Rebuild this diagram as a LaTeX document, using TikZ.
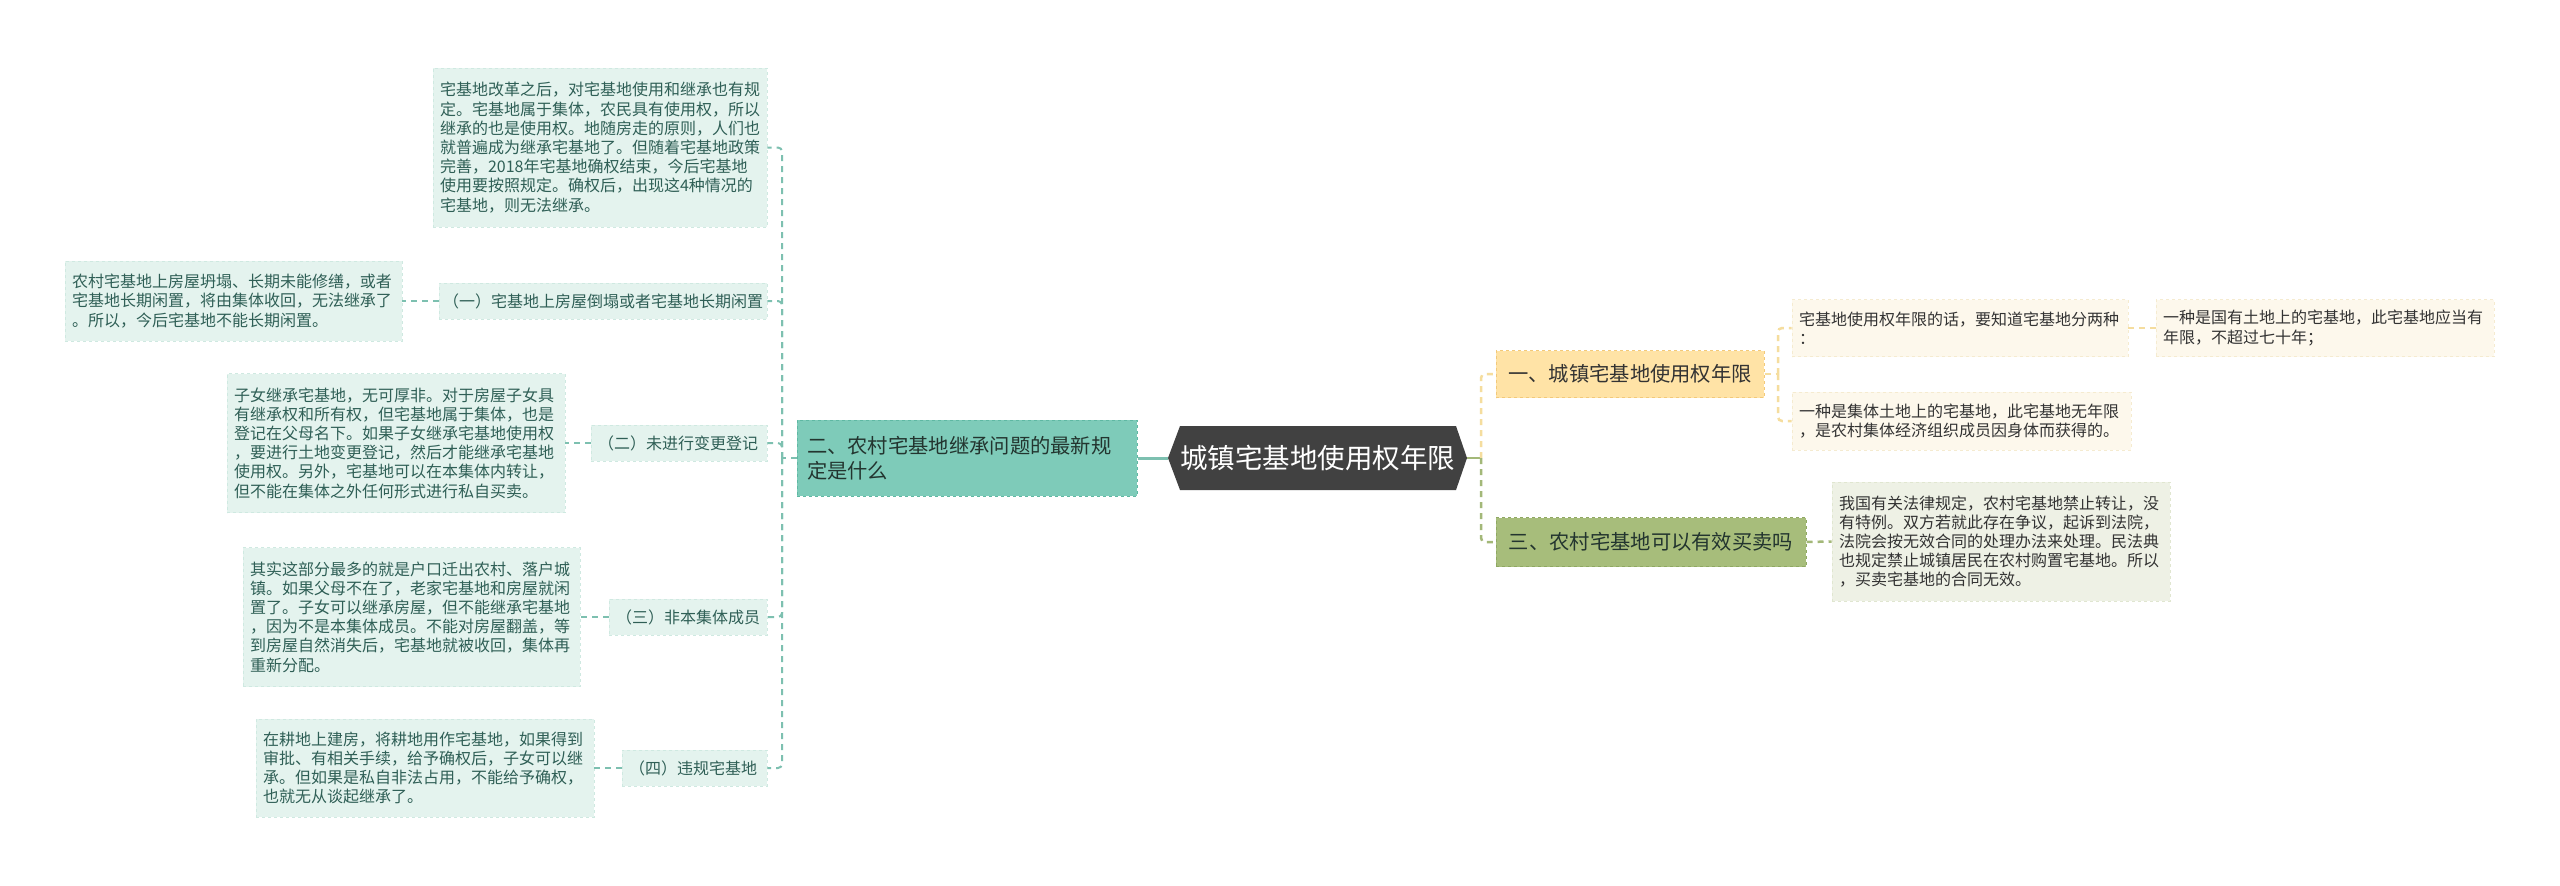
\documentclass[tikz,border=0pt]{standalone}
\usepackage{fontspec}
\setmainfont{Noto Sans CJK SC}
\definecolor{hexfill}{HTML}{414141}
\definecolor{tealfill}{HTML}{7ECBB9}
\definecolor{tealborder}{HTML}{5FB8A3}
\definecolor{mint}{HTML}{E4F3EE}
\definecolor{mintb}{HTML}{CFE9E1}
\definecolor{ltext}{HTML}{2F5F56}
\definecolor{ntext}{HTML}{23352F}
\definecolor{yfill}{HTML}{FFE3A6}
\definecolor{yborder}{HTML}{F2C97A}
\definecolor{yleaf}{HTML}{FDF8EC}
\definecolor{yleafb}{HTML}{F5EBD0}
\definecolor{gfill}{HTML}{A7BD7B}
\definecolor{gborder}{HTML}{8FA862}
\definecolor{gleaf}{HTML}{EEF1E5}
\definecolor{gleafb}{HTML}{E0E6D0}
\definecolor{rtext}{HTML}{333333}
\definecolor{connY}{HTML}{F5DD9E}
\definecolor{connG}{HTML}{A3B878}
\definecolor{connT}{HTML}{7DC0B0}
\tikzset{
  base/.style={rectangle, inner xsep=7pt, inner ysep=2pt, align=left,
    font=\fontsize{16}{19.2}\selectfont},
  lleaf/.style={base, fill=mint, draw=mintb, dashed, line width=0.8pt, text=ltext},
  yleafbox/.style={base, fill=yleaf, draw=yleafb, dashed, line width=0.8pt, text=rtext},
  gleafbox/.style={base, fill=gleaf, draw=gleafb, dashed, line width=0.8pt, text=rtext},
  sz/.style n args={3}{minimum width=#1pt, minimum height=#2pt, text width=#3pt},
  lvlone/.style={rectangle, inner xsep=10pt, inner ysep=3pt, align=left,
    font=\fontsize{20.3}{24.5}\selectfont, dashed, line width=1pt},
  lconn/.style={draw=connT, line width=2pt, dash pattern=on 6pt off 5pt, rounded corners=4pt},
  yconn/.style={draw=connY, line width=2.5pt, dash pattern=on 6pt off 5pt, rounded corners=4pt},
  gconn/.style={draw=connG, line width=2.5pt, dash pattern=on 6pt off 5pt, rounded corners=4pt},
}
\begin{document}
\begin{tikzpicture}[x=1pt,y=-1pt]
\useasboundingbox[fill=white] (0,0) rectangle (2560,886);

% central hexagon
\fill[hexfill] (1168,458) -- (1180,426) -- (1456,426) -- (1467,458) -- (1456,490) -- (1180,490) -- cycle;
\node[rectangle, minimum width=299pt, minimum height=64pt, inner sep=0pt, text=white,
  font=\fontsize{27.5}{30}\selectfont] (c) at (1317.5,458) {城镇宅基地使用权年限};

% left branch
\node[lvlone, fill=tealfill, draw=tealborder, text=ntext, minimum width=340pt, minimum height=76pt, text width=320pt]
  (n2) at (967,458) {二、农村宅基地继承问题的最新规\\定是什么};

\node[lleaf, sz={334}{159}{320}] (t0) at (600,147.5) {宅基地改革之后，对宅基地使用和继承也有规\\定。宅基地属于集体，农民具有使用权，所以\\继承的也是使用权。地随房走的原则，人们也\\就普遍成为继承宅基地了。但随着宅基地政策\\完善，2018年宅基地确权结束，今后宅基地\\使用要按照规定。确权后，出现这4种情况的\\宅基地，则无法继承。};

\node[lleaf, inner xsep=4pt, sz={328}{36}{320}] (l1) at (603,301) {（一）宅基地上房屋倒塌或者宅基地长期闲置};
\node[lleaf, sz={337}{80}{323}] (c1) at (233.5,301) {农村宅基地上房屋坍塌、长期未能修缮，或者\\宅基地长期闲置，将由集体收回，无法继承了\\。所以，今后宅基地不能长期闲置。};

\node[lleaf, sz={176}{36}{162}] (l2) at (679,443) {（二）未进行变更登记};
\node[lleaf, sz={338}{139}{324}] (c2) at (396,443) {子女继承宅基地，无可厚非。对于房屋子女具\\有继承权和所有权，但宅基地属于集体，也是\\登记在父母名下。如果子女继承宅基地使用权\\，要进行土地变更登记，然后才能继承宅基地\\使用权。另外，宅基地可以在本集体内转让，\\但不能在集体之外任何形式进行私自买卖。};

\node[lleaf, sz={158}{36}{144}] (l3) at (688,617) {（三）非本集体成员};
\node[lleaf, sz={337}{139}{323}] (c3) at (411.5,617) {其实这部分最多的就是户口迁出农村、落户城\\镇。如果父母不在了，老家宅基地和房屋就闲\\置了。子女可以继承房屋，但不能继承宅基地\\，因为不是本集体成员。不能对房屋翻盖，等\\到房屋自然消失后，宅基地就被收回，集体再\\重新分配。};

\node[lleaf, sz={145}{36}{131}] (l4) at (694.5,768) {（四）违规宅基地};
\node[lleaf, sz={338}{98}{324}] (c4) at (425,768) {在耕地上建房，将耕地用作宅基地，如果得到\\审批、有相关手续，给予确权后，子女可以继\\承。但如果是私自非法占用，不能给予确权，\\也就无从谈起继承了。};

% right branch
\node[lvlone, fill=yfill, draw=yborder, text=rtext, minimum width=268pt, minimum height=47pt]
  (r1) at (1630,374) {一、城镇宅基地使用权年限};
\node[lvlone, fill=gfill, draw=gborder, text=ntext, minimum width=310pt, minimum height=49pt]
  (r3) at (1651,542) {三、农村宅基地可以有效买卖吗};

\node[yleafbox, sz={336}{57}{322}] (rl1) at (1960,328) {宅基地使用权年限的话，要知道宅基地分两种\\：};
\node[yleafbox, sz={338}{57}{324}] (rl2) at (2325,328) {一种是国有土地上的宅基地，此宅基地应当有\\年限，不超过七十年；};
\node[yleafbox, sz={339}{58}{325}] (rl3) at (1961.5,421) {一种是集体土地上的宅基地，此宅基地无年限\\，是农村集体经济组织成员因身体而获得的。};
\node[gleafbox, sz={338}{119}{324}] (rl4) at (2001,541.5) {我国有关法律规定，农村宅基地禁止转让，没\\有特例。双方若就此存在争议，起诉到法院，\\法院会按无效合同的处理办法来处理。民法典\\也规定禁止城镇居民在农村购置宅基地。所以\\，买卖宅基地的合同无效。};

% connectors: center to left branch
\draw[draw=connT, line width=3pt] (c.west) -- (n2.east);
\coordinate (ls) at (782,458);
\draw[lconn] (n2.west) -- (ls);
\draw[lconn] (ls) |- (t0.east);
\draw[lconn] (ls) |- (l1.east);
\draw[lconn] (ls) |- (l2.east);
\draw[lconn] (ls) |- (l3.east);
\draw[lconn] (ls) |- (l4.east);
\draw[lconn] (l1.west) -- (c1.east);
\draw[lconn] (l2.west) -- (c2.east);
\draw[lconn] (l3.west) -- (c3.east);
\draw[lconn] (l4.west) -- (c4.east);

% connectors: center to right branch
\coordinate (rs) at (1481,458);
\draw[draw=connG, line width=2.5pt] (c.east) -- (rs);
\draw[yconn] (rs) |- (r1.west);
\draw[gconn] (rs) |- (r3.west);

\coordinate (rs1) at (1778,374);
\draw[yconn] (r1.east) -- (rs1);
\draw[yconn] (rs1) |- (rl1.west);
\draw[yconn] (rs1) |- (rl3.west);
\draw[yconn] (rl1.east) -- (rl2.west);
\draw[gconn] (r3.east) -- (rl4.west);
\end{tikzpicture}
\end{document}
